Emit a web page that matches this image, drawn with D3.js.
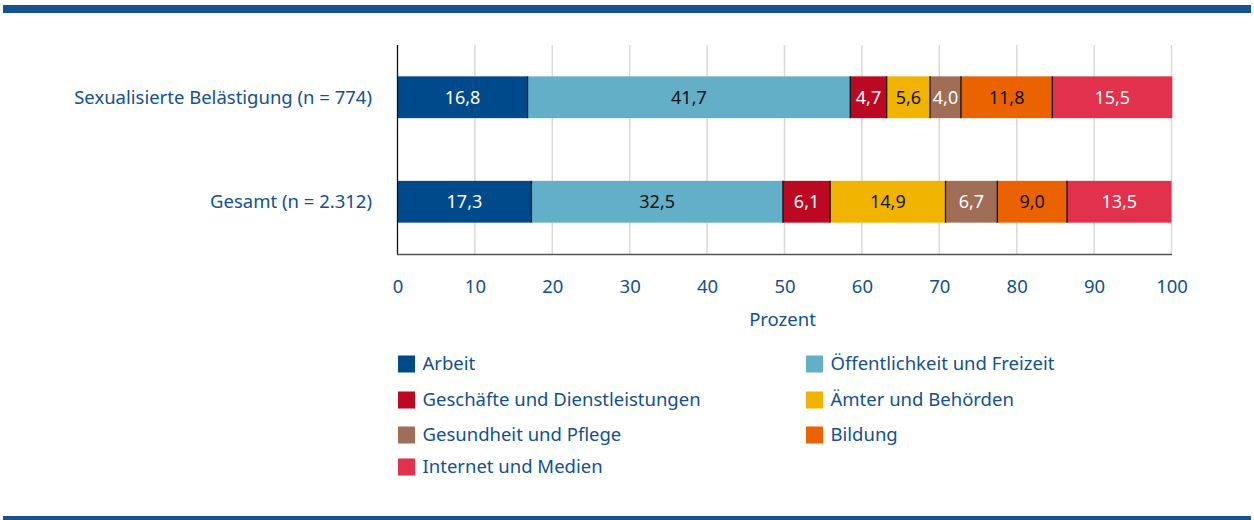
<!DOCTYPE html>
<html><head><meta charset="utf-8">
<script src="https://cdn.jsdelivr.net/npm/d3@7"></script>
<style>
html,body{margin:0;padding:0;background:#fff;}
svg{display:block;font-family:"Noto Sans",sans-serif;}
</style></head>
<body>
<svg id="c" width="1254" height="520"></svg>
<script>
const categories = ["Sexualisierte Belästigung (n = 774)", "Gesamt (n = 2.312)"];
const seriesNames = ["Arbeit","Öffentlichkeit und Freizeit","Geschäfte und Dienstleistungen","Ämter und Behörden","Gesundheit und Pflege","Bildung","Internet und Medien"];
const valuesSexualisiert = [16.8, 41.7, 4.7, 5.6, 4.0, 11.8, 15.5];
const valuesGesamt = [17.3, 32.5, 6.1, 14.9, 6.7, 9.0, 13.5];
const xTicks = [0,10,20,30,40,50,60,70,80,90,100];
const axisTitle = "Prozent";

const colors = ["#004A8C","#64AFC8","#BC0823","#F0B300","#A06D56","#EB6300","#E1314C"];
const textColors = ["#fff","#111","#fff","#111","#fff","#111","#fff"];
const blue = "#13508E";
const FS = 18.5;

const svg = d3.select("#c");
const W = 1254;

// top and bottom rules
svg.append("rect").attr("x",3).attr("y",5).attr("width",W-6).attr("height",8).attr("fill","#19538F");
svg.append("rect").attr("x",3).attr("y",516).attr("width",W-6).attr("height",6).attr("fill","#19538F");

const x = d3.scaleLinear().domain([0,100]).range([397.5,1171.5]);
const y = d3.scaleBand().domain(categories).range([45,254]).paddingInner(0.6).paddingOuter(0.3);

// gridlines
svg.append("g").selectAll("line").data(xTicks.filter(t=>t>0)).join("line")
  .attr("x1",d=>x(d)).attr("x2",d=>x(d)).attr("y1",45).attr("y2",254)
  .attr("stroke","#d9d9d9").attr("stroke-width",1.5);

const rows = [valuesSexualisiert, valuesGesamt];
rows.forEach((vals,ri)=>{
  const cat = categories[ri];
  let acc = 0;
  const segs = vals.map((v,i)=>{const s={i,v,x0:acc,x1:acc+v}; acc+=v; return s;});
  const g = svg.append("g");
  g.selectAll("rect").data(segs).join("rect")
    .attr("x",d=>x(d.x0)).attr("width",d=>x(d.x1)-x(d.x0))
    .attr("y",y(cat)).attr("height",y.bandwidth())
    .attr("fill",d=>colors[d.i]);
  g.selectAll("line").data(segs.slice(0,-1)).join("line")
    .attr("x1",d=>x(d.x1)).attr("x2",d=>x(d.x1))
    .attr("y1",y(cat)).attr("y2",y(cat)+y.bandwidth())
    .attr("stroke","#111").attr("stroke-width",1.3);
  g.selectAll("text").data(segs).join("text")
    .attr("x",d=>(x(d.x0)+x(d.x1))/2).attr("y",y(cat)+y.bandwidth()/2)
    .attr("dy","0.35em").attr("text-anchor","middle")
    .attr("font-size",18).attr("fill",d=>textColors[d.i])
    .text(d=>d.v.toFixed(1).replace(".",","));
});

// y axis line
svg.append("line").attr("x1",397.5).attr("x2",397.5).attr("y1",45).attr("y2",254.5)
  .attr("stroke","#111").attr("stroke-width",1.3);
// x axis line
svg.append("line").attr("x1",397).attr("x2",1172).attr("y1",254.5).attr("y2",254.5)
  .attr("stroke","#555").attr("stroke-width",1.3);

// category labels
svg.append("g").selectAll("text").data(categories).join("text")
  .attr("x",372).attr("y",d=>y(d)+y.bandwidth()/2).attr("dy","0.35em")
  .attr("text-anchor","end").attr("font-size",FS).attr("fill",blue).text(d=>d);

// tick labels via axis
const xa = d3.axisBottom(x).tickValues(xTicks).tickSize(0).tickPadding(0).tickFormat(d3.format("d"));
const ag = svg.append("g").attr("transform","translate(0,281)").call(xa);
ag.select(".domain").remove();
ag.selectAll("text").attr("font-size",FS).attr("fill",blue).attr("font-family","Noto Sans").attr("dy","0.35em").attr("y",6);

svg.append("text").attr("x",x(50)-2).attr("y",320).attr("dy","0.35em").attr("text-anchor","middle")
  .attr("font-size",FS).attr("fill",blue).text(axisTitle);

// legend
const legendRowsY = [364,400,435,467];
const legendColX = [398,806];
const lg = svg.append("g");
seriesNames.forEach((name,i)=>{
  const col = i%2, row = Math.floor(i/2);
  const gx = legendColX[col], gy = legendRowsY[row];
  lg.append("rect").attr("x",gx).attr("y",gy-8.5).attr("width",17).attr("height",17).attr("fill",colors[i]);
  lg.append("text").attr("x",gx+24.5).attr("y",gy).attr("dy","0.35em").attr("font-size",FS).attr("fill",blue).text(name);
});
</script>
</body></html>
